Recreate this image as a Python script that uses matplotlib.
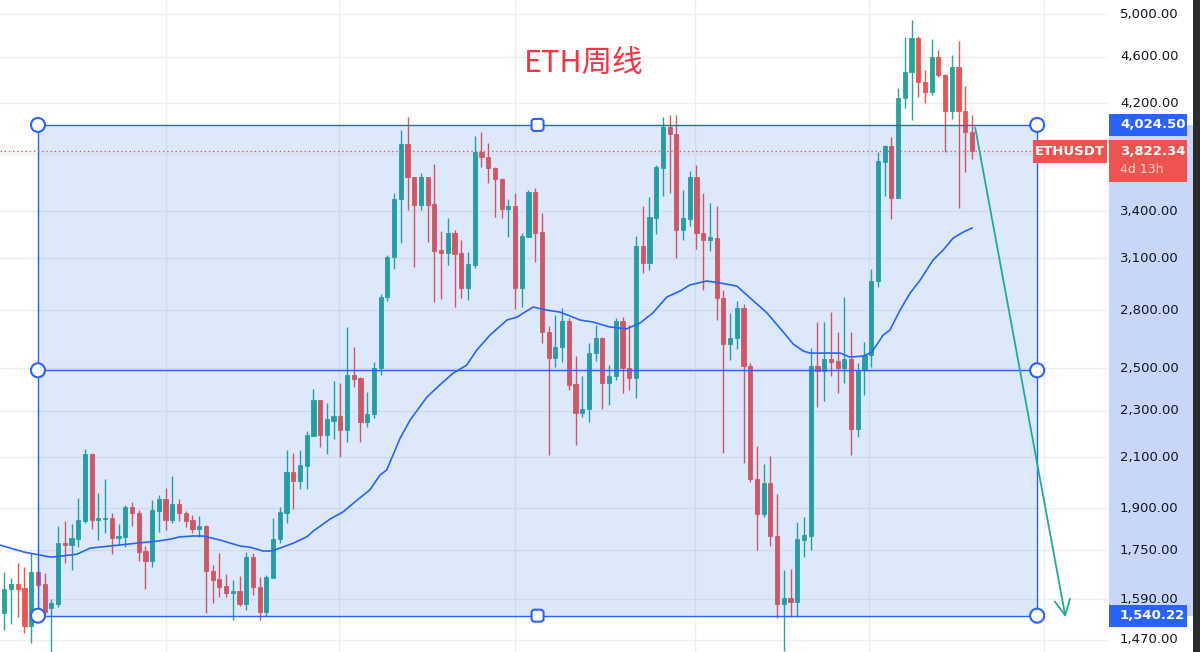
import numpy as np
import matplotlib
matplotlib.use("Agg")
import matplotlib.pyplot as plt
from matplotlib.patches import Rectangle, Circle, FancyBboxPatch

# weekly ETHUSDT candles (oldest first)
opens = [1548, 1622, 1639, 1626, 1509, 1678, 1639, 1563, 1576, 1775,
         1768, 1789, 1853, 2113, 1857, 1861, 1864, 1793, 1797, 1905,
         1883, 1748, 1714, 1890, 1935, 1857, 1916, 1883, 1857, 1825,
         1835, 1681, 1655, 1632, 1610, 1616, 1576, 1727, 1629, 1551,
         1658, 1789, 1883, 2040, 2005, 2064, 2189, 2349, 2194, 2254,
         2277, 2215, 2467, 2453, 2250, 2285, 2500, 2874, 3108, 3481,
         3877, 3634, 3440, 3634, 3447, 3150, 3131, 3257, 3131, 2925,
         3059, 3817, 3780, 3699, 3620, 3414, 3434, 2925, 3232, 3529,
         3263, 2684, 2550, 2606, 2742, 2424, 2289, 2308, 2575, 2652,
         2429, 2462, 2742, 2500, 2452, 3175, 3071, 3354, 3699, 4008,
         3954, 3276, 3348, 3634, 3257, 3213, 3225, 2868, 2621, 2652,
         2812, 2510, 2013, 1879, 1997, 1800, 1576, 1594, 1582, 1786,
         1800, 2510, 2486, 2545, 2535, 2500, 2545, 2219, 2491, 2565,
         2965, 3742, 3862, 3488, 4241, 4463, 4770, 4376, 4292, 4597,
         4437, 4136, 4507, 4136, 3969]
highs = [1678, 1658, 1707, 1694, 1741, 1685, 1674, 1591, 1835, 1853,
         1843, 1939, 2134, 2117, 1958, 2013, 1883, 1843, 1912, 1924,
         1894, 1765, 1931, 1951, 1978, 2025, 1935, 1890, 1875, 1872,
         1839, 1701, 1741, 1671, 1652, 1665, 1744, 1741, 1662, 1668,
         1864, 1905, 2130, 2117, 2130, 2211, 2400, 2349, 2335, 2438,
         2429, 2710, 2605, 2457, 2386, 2530, 2891, 3120, 3519, 3985,
         4088, 3634, 3662, 3634, 3727, 3270, 3354, 3276, 3213, 3138,
         3938, 3969, 3884, 3706, 3627, 3481, 3519, 3257, 3543, 3557,
         3387, 2715, 2774, 2812, 2758, 2560, 2462, 2626, 2721, 2658,
         2515, 2758, 2763, 2721, 3238, 3434, 3495, 3720, 4088, 4104,
         4104, 3543, 3677, 3720, 3519, 3454, 3434, 2913, 2785, 2851,
         2835, 2525, 2147, 2072, 2105, 1955, 1684, 1688, 1850, 1868,
         2600, 2736, 2736, 2790, 2684, 2874, 2684, 2525, 2632, 3036,
         3817, 3870, 3931, 4326, 4780, 4942, 4790, 4481, 4761, 4660,
         4445, 4615, 4743, 4343, 4104]
lows = [1498, 1515, 1536, 1489, 1460, 1626, 1542, 1431, 1566, 1707,
        1684, 1761, 1846, 1825, 1786, 1811, 1737, 1768, 1761, 1835,
        1714, 1622, 1694, 1814, 1821, 1846, 1853, 1832, 1811, 1797,
        1548, 1579, 1597, 1597, 1527, 1570, 1557, 1603, 1527, 1539,
        1658, 1775, 1846, 1897, 1974, 1974, 2189, 2143, 2113, 2176,
        2101, 2164, 2410, 2164, 2228, 2268, 2467, 2851, 3036, 3194,
        3407, 3048, 3407, 3200, 2846, 2862, 3059, 2818, 2868, 2857,
        3042, 3706, 3592, 3361, 3354, 3232, 2807, 2818, 3232, 3077,
        2626, 2109, 2505, 2530, 2395, 2151, 2272, 2250, 2535, 2308,
        2326, 2443, 2381, 2395, 2358, 3012, 3030, 3250, 3505, 3519,
        3100, 3213, 3302, 3156, 2913, 3144, 2747, 2117, 2540, 2596,
        2077, 2001, 1751, 1868, 1765, 1533, 1437, 1536, 1536, 1727,
        1751, 2317, 2344, 2462, 2381, 2429, 2109, 2185, 2372, 2505,
        2930, 3501, 3348, 3488, 4160, 4063, 4250, 4200, 4267, 4420,
        3817, 4071, 3421, 3670, 3765]
closes = [1622, 1639, 1622, 1509, 1678, 1636, 1551, 1579, 1775, 1768,
          1793, 1857, 2113, 1857, 1864, 1864, 1793, 1800, 1905, 1883,
          1744, 1714, 1894, 1935, 1857, 1916, 1883, 1853, 1825, 1835,
          1681, 1652, 1629, 1610, 1616, 1576, 1727, 1629, 1551, 1662,
          1789, 1887, 2040, 2005, 2068, 2194, 2349, 2194, 2263, 2277,
          2215, 2467, 2448, 2250, 2285, 2500, 2874, 3108, 3481, 3877,
          3634, 3440, 3634, 3440, 3144, 3131, 3257, 3125, 2925, 3065,
          3817, 3780, 3699, 3620, 3414, 3434, 2925, 3238, 3529, 3257,
          2684, 2550, 2606, 2742, 2419, 2289, 2308, 2575, 2652, 2429,
          2462, 2742, 2500, 2452, 3175, 3071, 3361, 3706, 4008, 3954,
          3276, 3354, 3634, 3257, 3213, 3232, 2868, 2621, 2652, 2812,
          2510, 2013, 1879, 1997, 1800, 1576, 1594, 1582, 1789, 1804,
          2510, 2486, 2545, 2530, 2500, 2545, 2219, 2491, 2565, 2965,
          3750, 3862, 3488, 4241, 4463, 4770, 4376, 4292, 4597, 4437,
          4136, 4507, 4136, 3969, 3822.34]

# moving average line (week position, price)
ma_week = [-0.6, 3, 7, 10.8, 12.8, 15.7, 19.7, 22.7, 24.7, 26.1,
           28.1, 29.6, 32.1, 35.1, 36.6, 38.5, 39.8, 41, 43, 45,
           46, 48.5, 50.4, 52.5, 54.4, 55.9, 56.9, 58.9, 60.4, 62.9,
           64.8, 66.8, 68.8, 70.3, 72.3, 74.8, 76.3, 78.7, 80.7, 82.7,
           85.7, 87.6, 90.1, 92.6, 94.6, 96.5, 98.6, 100.6, 102, 104.5,
           106.5, 109, 111, 113.5, 115.9, 117.4, 118.9, 119.9, 124.4, 125.8,
           127.8, 129.1, 130.8, 131.8, 133.3, 134.8, 136.3, 138.2, 139.7, 141.2,
           142.7, 144]
ma_value = [1768, 1744, 1727, 1737, 1758, 1765, 1775, 1782, 1789, 1797,
            1800, 1800, 1786, 1765, 1761, 1748, 1748, 1758, 1775, 1797,
            1818, 1861, 1887, 1931, 1970, 2028, 2048, 2180, 2259, 2363,
            2419, 2476, 2515, 2590, 2668, 2747, 2763, 2818, 2801, 2790,
            2747, 2736, 2710, 2700, 2731, 2785, 2874, 2908, 2942, 2965,
            2954, 2936, 2868, 2785, 2684, 2621, 2585, 2575, 2575, 2555,
            2560, 2580, 2668, 2694, 2801, 2896, 2971, 3089, 3150, 3225,
            3263, 3289]

# price levels with a grid line; the scale labels skip the one under the red tag
grid_prices = [1470, 1590, 1750, 1900, 2100, 2300, 2500, 2800, 3100, 3400,
               3800, 4200, 4600, 5000]
label_prices = [1470, 1590, 1750, 1900, 2100, 2300, 2500, 2800, 3100, 3400,
                4200, 4600, 5000]
range_top = 4024.50
range_bottom = 1540.22
last_close = 3822.34
symbol = "ETHUSDT"
countdown = "4d 13h"
title = "ETH周线"

UP = "#26a69a"
DOWN = "#ef5350"
BLUE = "#2962ff"
W_PX, H_PX = 1200, 652
SCALE_X = 1108

fig = plt.figure(figsize=(12, 6.52), dpi=100)
ax = fig.add_axes([0, 0, SCALE_X / W_PX, 1])
ax.set_yscale("log")
ax.set_xlim(-0.64, 164.24)
ax.set_ylim(1434.5, 5139)
ax.axis("off")

# grid
for p in grid_prices:
    ax.axhline(p, color="#eceef2", lw=1, zorder=0)
for gx in [24.1, 49.8, 76.0, 102.8, 128.7, 154.7]:
    ax.axvline(gx, color="#eceef2", lw=1, zorder=0)

# candles
o = np.array(opens, float)
h = np.array(highs, float)
l = np.array(lows, float)
c = np.array(closes, float)
weeks = np.arange(len(o))
cols = np.where(c >= o, UP, DOWN)
lo = np.minimum(o, c)
hi = np.maximum(o, c)
ax.vlines(weeks, l, h, colors=cols, lw=1, zorder=2)
ax.bar(weeks, hi - lo, bottom=lo, width=0.62, color=cols, edgecolor=cols,
       lw=0.6, zorder=2)

# range rectangle drawing
rect_left, rect_right = 5.01, 153.7
ax.add_patch(Rectangle((rect_left, range_bottom), rect_right - rect_left,
                       range_top - range_bottom, facecolor="#1e6fe0",
                       alpha=0.15, edgecolor="none", zorder=3))
mid_price = np.sqrt(range_top * range_bottom)
for yv in (range_top, mid_price, range_bottom):
    ax.plot([rect_left, rect_right], [yv, yv], color=BLUE, lw=1, zorder=4)
for xv in (rect_left, rect_right):
    ax.plot([xv, xv], [range_bottom, range_top], color=BLUE, lw=1, zorder=4)

# moving average
ax.plot(ma_week, ma_value, color=BLUE, lw=1.2, zorder=4)

# last price line
ax.axhline(last_close, color=DOWN, lw=1, ls=(0, (1, 2)), zorder=4)

# projection arrow
ax.annotate("", xy=(158.0, 1527), xytext=(144.4, range_top),
            arrowprops=dict(arrowstyle="->,head_length=0.7,head_width=0.35",
                            color="#22ab94", lw=1.3, mutation_scale=16),
            zorder=5)

# overlay in pixel coordinates for scale, labels and handles
ov = fig.add_axes([0, 0, 1, 1], zorder=10)
ov.set_xlim(0, W_PX)
ov.set_ylim(H_PX, 0)
ov.axis("off")
ov.patch.set_alpha(0)


def to_px(week, price):
    X, Y = ax.transData.transform((week, price))
    return X, H_PX - Y


# price scale
y_top = to_px(0, range_top)[1]
y_bot = to_px(0, range_bottom)[1]
ov.add_patch(Rectangle((SCALE_X + 1, y_top), 84, y_bot - y_top,
                       facecolor="#c8d6f9", edgecolor="none"))
ov.add_patch(Rectangle((1193, 0), 7, H_PX, facecolor="#2b2b2b",
                       edgecolor="none"))
for p in label_prices:
    ov.text(1120, to_px(0, p)[1], f"{p:,.2f}", ha="left", va="center",
            fontsize=9.5, color="#131722")

for v in (range_top, range_bottom):
    yv = to_px(0, v)[1]
    ov.add_patch(Rectangle((SCALE_X + 1, yv - 11), 78, 22, facecolor=BLUE,
                           edgecolor="none", zorder=5))
    ov.text(1120, yv, f"{v:,.2f}", ha="left", va="center", fontsize=9.5,
            color="white", fontweight="bold", zorder=6)

yc = to_px(0, last_close)[1]
ov.add_patch(Rectangle((SCALE_X + 1, yc - 11), 78, 42, facecolor=DOWN,
                       edgecolor="none", zorder=5))
ov.text(1120, yc, f"{last_close:,.2f}", ha="left", va="center",
        fontsize=9.5, color="white", fontweight="bold", zorder=6)
ov.text(1120, yc + 18, countdown, ha="left", va="center", fontsize=9,
        color="#ffdcdc", zorder=6)
ov.add_patch(Rectangle((1033, yc - 11), 74, 23, facecolor=DOWN,
                       edgecolor="none", zorder=5))
ov.text(1070, yc + 0.5, symbol, ha="center", va="center", fontsize=9.5,
        color="white", fontweight="bold", zorder=6)

# drawing handles
xl = to_px(rect_left, range_top)[0]
xr = to_px(rect_right, range_top)[0]
y_mid = to_px(0, mid_price)[1]
for hx in (xl, xr):
    for hy in (y_top, y_mid, y_bot):
        ov.add_patch(Circle((hx, hy), 7, facecolor="white", edgecolor=BLUE,
                            lw=1.5, zorder=7))
xm = (xl + xr) / 2
for hy in (y_top, y_bot):
    ov.add_patch(FancyBboxPatch((xm - 6, hy - 6), 12, 12,
                                boxstyle="round,pad=0,rounding_size=3",
                                facecolor="white", edgecolor=BLUE, lw=1.5,
                                zorder=7))

ov.text(584, 63, title, ha="center", va="center", fontsize=22,
        color="#f23645", family=["Noto Sans CJK SC", "DejaVu Sans"])

fig.savefig("out.png", dpi=100)
